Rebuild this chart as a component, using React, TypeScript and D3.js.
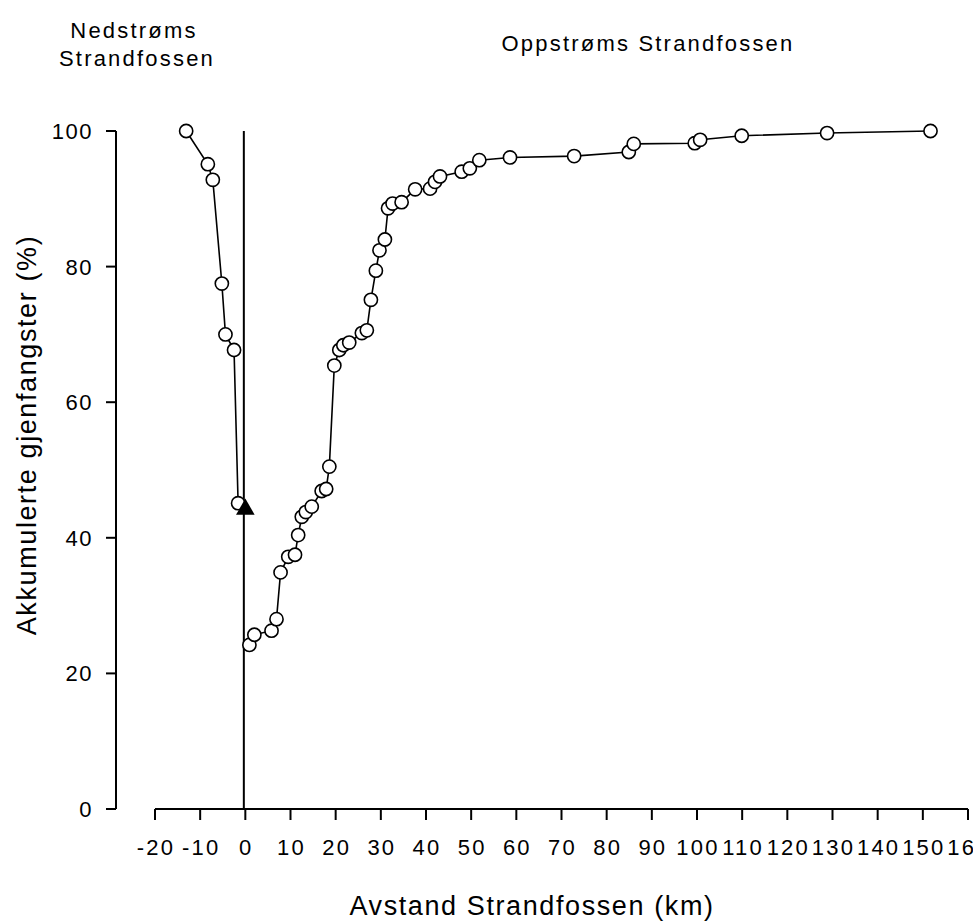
import React from "react";
import * as d3 from "d3";

// downstream of the fall (km, cumulative %)
const downX = [-13.1, -8.3, -7.2, -5.2, -4.4, -2.5, -1.6];
const downY = [100, 95.1, 92.8, 77.5, 70.0, 67.7, 45.1];
// capture at the fall itself
const fallX = [0];
const fallY = [44.2];
// upstream of the fall
const upX = [0.9, 2.0, 5.8, 6.9, 7.8, 9.5, 11.0, 11.7, 12.5, 13.4, 14.7, 16.9, 17.9, 18.6, 19.7, 20.8, 21.7, 23.0, 25.8, 26.9, 27.8, 28.9, 29.7, 30.9, 31.6, 32.6, 34.6, 37.6, 40.9, 42.0, 43.1, 47.9, 49.7, 51.8, 58.6, 72.8, 84.9, 86.0, 99.5, 100.7, 109.9, 128.8, 151.7];
const upY = [24.2, 25.7, 26.3, 28.0, 34.9, 37.2, 37.5, 40.4, 43.1, 43.8, 44.6, 46.9, 47.2, 50.5, 65.4, 67.7, 68.4, 68.8, 70.2, 70.6, 75.1, 79.4, 82.4, 84.0, 88.6, 89.3, 89.5, 91.4, 91.5, 92.5, 93.3, 94.0, 94.5, 95.7, 96.1, 96.3, 96.9, 98.1, 98.2, 98.7, 99.3, 99.7, 100];

const xTicks = [-20, -10, 0, 10, 20, 30, 40, 50, 60, 70, 80, 90, 100, 110, 120, 130, 140, 150, 160];
const yTicks = [0, 20, 40, 60, 80, 100];

const W = 973, H = 921;
const FONT = "'Liberation Sans', Arial, sans-serif";

export default function App() {
  const x = d3.scaleLinear().domain([-20, 160]).range([155, 968]);
  const y = d3.scaleLinear().domain([0, 100]).range([809, 131]);
  const line = d3.line<[number, number]>().x((d) => x(d[0])).y((d) => y(d[1]));
  const down = downX.map((v, i) => [v, downY[i]] as [number, number]);
  const up = upX.map((v, i) => [v, upY[i]] as [number, number]);
  const tri = d3.symbol().type(d3.symbolTriangle).size(150)();
  const axisX = 116;

  return (
    <svg width={W} height={H} style={{ position: "absolute", left: 0, top: 0, background: "#fff" }} fontFamily={FONT}>
      {/* y axis */}
      <line x1={axisX} x2={axisX} y1={y(100)} y2={y(0)} stroke="#000" strokeWidth={2} />
      {yTicks.map((t) => (
        <g key={t}>
          <line x1={axisX - 10} x2={axisX} y1={y(t)} y2={y(t)} stroke="#000" strokeWidth={2} />
          <text x={93} y={y(t)} dy="0.36em" textAnchor="end" fontSize={22} letterSpacing={1.5}>{t}</text>
        </g>
      ))}
      {/* x axis */}
      <line x1={x(-20)} x2={x(160)} y1={y(0)} y2={y(0)} stroke="#000" strokeWidth={2} />
      {xTicks.map((t) => (
        <g key={t}>
          <line x1={x(t)} x2={x(t)} y1={y(0)} y2={y(0) + 11} stroke="#000" strokeWidth={2} />
          <text x={x(t) + 1} y={847} dy="0.36em" textAnchor="middle" fontSize={22} letterSpacing={2.2}>{String(t)}</text>
        </g>
      ))}
      {/* vertical line at the fall */}
      <line x1={x(0) - 1.5} x2={x(0) - 1.5} y1={y(100)} y2={y(0)} stroke="#000" strokeWidth={2} />

      <path d={line(down) || ""} fill="none" stroke="#000" strokeWidth={1.6} />
      <path d={line(up) || ""} fill="none" stroke="#000" strokeWidth={1.6} />
      {down.concat(up).map((d, i) => (
        <circle key={i} cx={x(d[0])} cy={y(d[1])} r={6.6} fill="#fff" stroke="#000" strokeWidth={1.6} />
      ))}
      {fallX.map((v, i) => (
        <path key={i} d={tri || ""} transform={`translate(${x(v)},${y(fallY[i])})`} fill="#000" />
      ))}

      {/* labels */}
      <text x={26} y={435} transform="rotate(-90 26 435)" dy="0.36em" textAnchor="middle" fontSize={27} letterSpacing={1.6}>Akkumulerte gjenfangster (%)</text>
      <text x={532} y={905} dy="0.36em" textAnchor="middle" fontSize={27} letterSpacing={1.6}>Avstand Strandfossen (km)</text>
      <text x={134} y={30} dy="0.36em" textAnchor="middle" fontSize={22} letterSpacing={2.2}>Nedstrøms</text>
      <text x={137} y={58} dy="0.36em" textAnchor="middle" fontSize={22} letterSpacing={2.2}>Strandfossen</text>
      <text x={648} y={43} dy="0.36em" textAnchor="middle" fontSize={22} letterSpacing={2.2}>Oppstrøms Strandfossen</text>
    </svg>
  );
}
